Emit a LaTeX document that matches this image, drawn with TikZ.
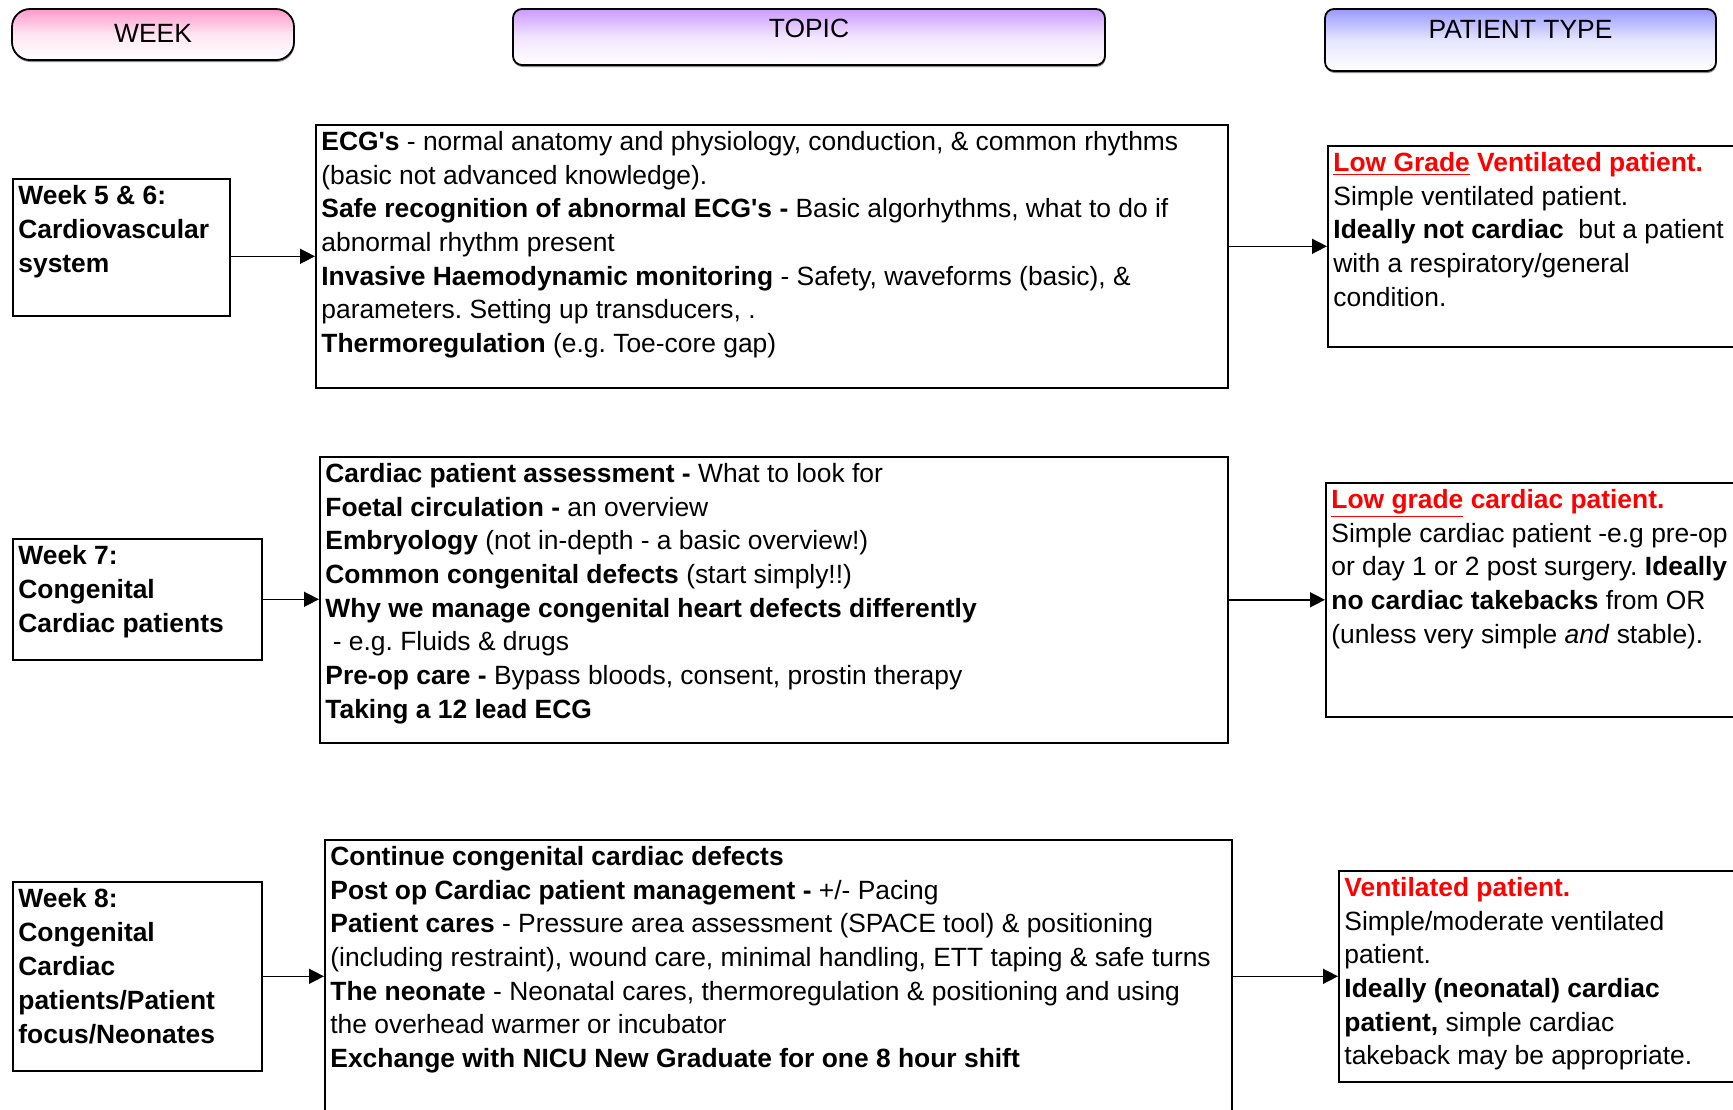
\documentclass[tikz,border=0pt]{standalone}
\usepackage{fontspec}
\setmainfont{Liberation Sans}
\usepackage{xcolor}
\usetikzlibrary{arrows.meta, shadows}
\definecolor{wkpink}{HTML}{FF99CC}
\definecolor{tplilac}{HTML}{CC99FF}
\definecolor{ptblue}{HTML}{9999FF}
\newcommand*{\cellbox}[3]{\parbox[c][#2][t]{#1}{\frenchspacing#3}}

\begin{document}
\begin{tikzpicture}[x=0.5pt, y=-0.5pt,
  every node/.style = {font=\fontsize{13.2}{16.85}\selectfont},
  header/.style     = {draw, line width=0.9pt, text height=9.45pt,
                       bottom color=white,
                       drop shadow={shadow xshift=0.3pt, shadow yshift=-1pt,
                                    opacity=0.9}},
  cell/.style       = {draw, line width=0.9pt, anchor=north west,
                       inner xsep=2.75pt, inner ysep=3.2pt, fill=white},
  weekcell/.style   = {cell, font=\fontsize{13.2}{17}\selectfont\bfseries},
  link/.style       = {line width=0.75pt, -{Triangle[length=7.5pt,width=7.5pt]}}
]
\useasboundingbox (0,0) rectangle (1733,1109);
\clip (0,0) rectangle (1733,1109);

% column heads
\node[header, top color=wkpink, middle color=wkpink!25, rounded corners=9pt,
      minimum width=141pt, minimum height=25.5pt, text depth=1.5pt]
  (hdweek) at (153,34.5) {WEEK};
\node[header, top color=tplilac, middle color=tplilac!25, rounded corners=4.5pt,
      minimum width=296pt, minimum height=28pt, text depth=9.4pt]
  (hdtopic) at (809,37) {TOPIC};
\node[header, top color=ptblue, middle color=ptblue!25, rounded corners=4.5pt,
      minimum width=195.5pt, minimum height=31pt, text depth=11.3pt]
  (hdpatient) at (1520.5,40) {PATIENT TYPE};

% weeks
\node[weekcell] (wk1) at (12,178) {\cellbox{103pt}{62pt}{%
  Week 5 \& 6:\\Cardiovascular\\system}};
\node[weekcell] (wk2) at (12,538) {\cellbox{119pt}{54pt}{%
  Week 7:\\Congenital\\Cardiac patients}};
\node[weekcell] (wk3) at (12,881) {\cellbox{119pt}{88pt}{%
  Week 8:\\Congenital\\Cardiac\\patients/Patient\\focus/Neonates}};

% topics
\node[cell] (tp1) at (315,124) {\cellbox{450.5pt}{125pt}{%
  \textbf{ECG\textquotesingle s} - normal anatomy and physiology, conduction, \& common rhythms\\
  (basic not advanced knowledge).\\
  \textbf{Safe recognition of abnormal ECG\textquotesingle s -} Basic algorhythms, what to do if\\
  abnormal rhythm present\\
  \textbf{Invasive Haemodynamic monitoring} - Safety, waveforms (basic), \&\\
  parameters. Setting up transducers, .\\
  \textbf{Thermoregulation} (e.g. Toe-core gap)}};
\node[cell] (tp2) at (319,456) {\cellbox{448.5pt}{136.5pt}{%
  \textbf{Cardiac patient assessment -} What to look for\\
  \textbf{Foetal circulation -} an overview\\
  \textbf{Embryology} (not in-depth - a basic overview!)\\
  \textbf{Common congenital defects} (start simply!!)\\
  \textbf{Why we manage congenital heart defects differently}\\
  \hspace*{0.28em}- e.g. Fluids \& drugs\\
  \textbf{Pre-op care -} Bypass bloods, consent, prostin therapy\\
  \textbf{Taking a 12 lead ECG}}};
\node[cell] (tp3) at (324,839) {\cellbox{448pt}{150pt}{%
  \textbf{Continue congenital cardiac defects}\\
  \textbf{Post op Cardiac patient management -} +/- Pacing\\
  \textbf{Patient cares} - Pressure area assessment (SPACE tool) \& positioning\\
  (including restraint), wound care, minimal handling, ETT taping \& safe turns\\
  \textbf{The neonate} - Neonatal cares, thermoregulation \& positioning and using\\
  the overhead warmer or incubator\\
  \textbf{Exchange with NICU New Graduate for one 8 hour shift}}};

% patient types
\node[cell] (pt1) at (1327,145) {\cellbox{214.5pt}{94pt}{%
  \textcolor{red}{\textbf{\underline{Low Grade} Ventilated patient.}}\\
  Simple ventilated patient.\\
  \textbf{Ideally not cardiac}\ \ but a patient\\
  with a respiratory/general\\
  condition.}};
\node[cell] (pt2) at (1325,482) {\cellbox{214.5pt}{110.5pt}{%
  \textcolor{red}{\textbf{\underline{Low grade} cardiac patient.}}\\
  Simple cardiac patient -e.g pre-op\\
  or day 1 or 2 post surgery. \textbf{Ideally}\\
  \textbf{no cardiac takebacks} from OR\\
  (unless very simple \textit{and}\ stable).}};
\node[cell] (pt3) at (1338,870) {\cellbox{214.5pt}{99pt}{%
  \textcolor{red}{\textbf{Ventilated patient.}}\\
  Simple/moderate ventilated\\
  patient.\\
  \textbf{Ideally (neonatal) cardiac}\\
  \textbf{patient,} simple cardiac\\
  takeback may be appropriate.}};

% connectors
\draw[link] (wk1.east |- tp1.west) -- (tp1.west);
\draw[link] (tp1.east |- pt1.west) -- (pt1.west);
\draw[link] (wk2.east) -- (wk2.east -| tp2.west);
\draw[link] (tp2.east |- pt2.west) -- (pt2.west);
\draw[link] (wk3.east) -- (wk3.east -| tp3.west);
\draw[link] (tp3.east |- pt3.west) -- (pt3.west);
\end{tikzpicture}
\end{document}
